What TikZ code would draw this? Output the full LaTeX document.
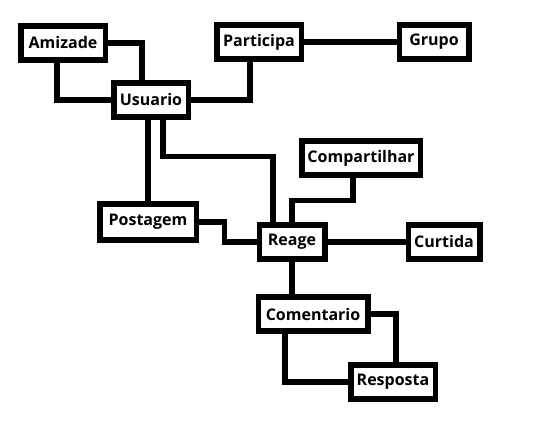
\documentclass[tikz,border=0pt]{standalone}
\usepackage{fontspec}
\setmainfont{Open Sans}
\usepackage{tikz}
\usetikzlibrary{positioning}

\tikzset{
	entbox/.style={rectangle,draw,line width=5.5pt,fill=white,inner sep=0pt,
		minimum height=34pt,font=\bfseries\fontsize{16}{18}\selectfont},
	link/.style={line width=5.5pt}
}

\begin{document}
\begin{tikzpicture}[x=1pt,y=-1pt]
				\useasboundingbox (0,0) rectangle (546,438);
				% entidades
				\node[entbox,minimum width=84.5pt] (amizade) at (63,43) {Amizade};
				\node[entbox,minimum width=74.5pt] (usuario) at (151,100) {Usuario};
				\node[entbox,minimum width=84.5pt] (participa) at (259,42) {Participa};
				\node[entbox,minimum width=69.5pt] (grupo) at (434,42) {Grupo};
				\node[entbox,minimum width=96.5pt,minimum height=36pt] (postagem) at (148,222) {Postagem};
				\node[entbox,minimum width=65.5pt] (reage) at (292,242) {Reage};
				\node[entbox,minimum width=118.5pt] (compartilhar) at (361,158) {Compartilhar};
				\node[entbox,minimum width=71.5pt] (curtida) at (444,242) {Curtida};
				\node[entbox,minimum width=109.5pt] (comentario) at (313,314) {Comentario};
				\node[entbox,minimum width=84.5pt] (resposta) at (393,382) {Resposta};
				% ligacoes
				\draw[link] (amizade.east) -| ([xshift=-9pt]usuario.north);
				\draw[link] ([xshift=-6pt]amizade.south) |- (usuario.west);
				\draw[link] (usuario.east) -| ([xshift=-9pt]participa.south);
				\draw[link] (participa) -- (grupo);
				\draw[link] (postagem.north |- usuario.south) -- (postagem.north);
				\draw[link] ([xshift=12pt]usuario.south) -- ++(0,37) -| ([xshift=-19pt]reage.north);
				\draw[link] ([xshift=-8pt]compartilhar.south) -- ++(0,23) -| (reage.north);
				\draw[link] (postagem.east) -- ++(25.5,0) |- (reage.west);
				\draw[link] (reage) -- (curtida);
				\draw[link] (reage.south) -- (reage.south |- comentario.north);
				\draw[link] (comentario.east) -| ([xshift=3pt]resposta.north);
				\draw[link] ([xshift=-28pt]comentario.south) |- (resposta.west);
		\end{tikzpicture}
\end{document}
